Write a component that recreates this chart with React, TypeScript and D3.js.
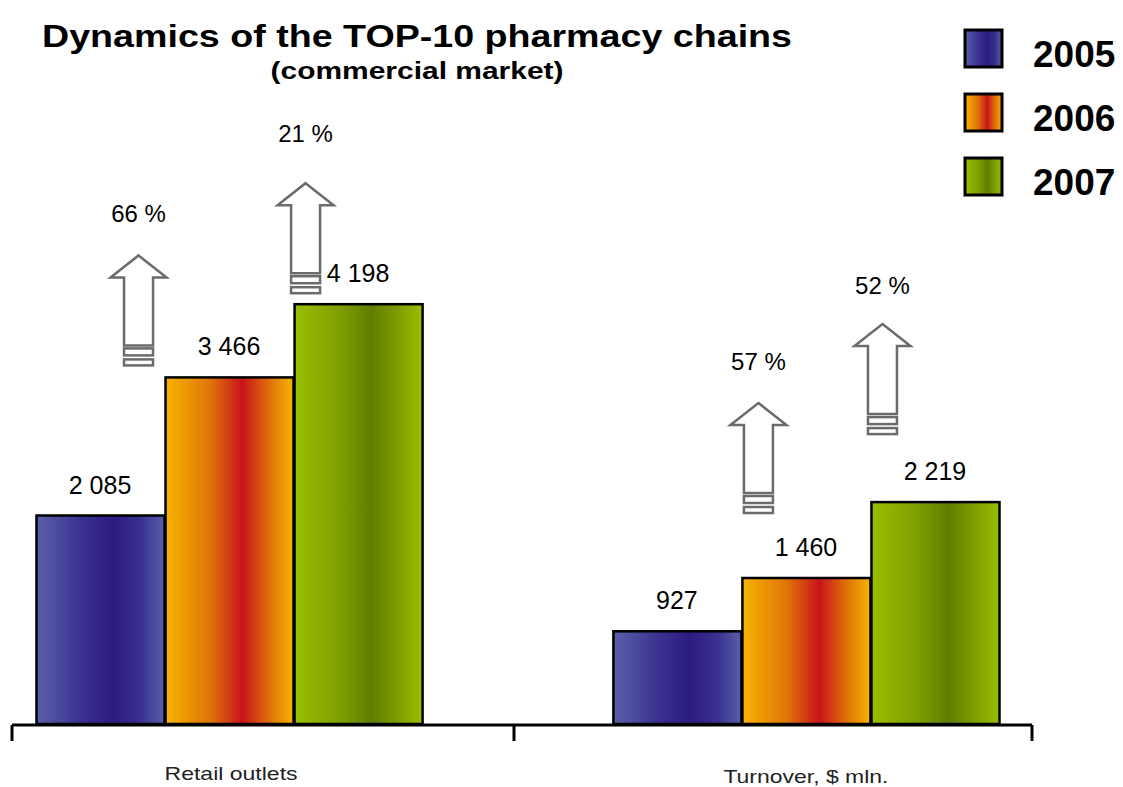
import React from "react";
import * as d3 from "d3";

const categories = ["Retail outlets", "Turnover, $ mln."];
const years = ["2005", "2006", "2007"];
const values2005 = [2085, 927];
const values2006 = [3466, 1460];
const values2007 = [4198, 2219];
const seriesValues = [values2005, values2006, values2007];

const changeGroups = ["Retail outlets", "Retail outlets", "Turnover, $ mln.", "Turnover, $ mln."];
const changeTo = ["2006", "2007", "2006", "2007"];
const changeLabels = ["66 %", "21 %", "57 %", "52 %"];
// layout offsets for arrows (dx from target bar left edge, dy above target bar top, label gap above tip)
const arrowDx = [-26, 12, 17, 12];
const arrowDy = [122, 121, 175, 178];
const labelGap = [33, 41, 33, 30];

const gradients = [
  { id: "g2005", edge: "#5a60a9", mid: "#3a3290", center: "#2c1b82" },
  { id: "g2006", edge: "#f6b400", mid: "#e07408", center: "#c8141c" },
  { id: "g2007", edge: "#9abf00", mid: "#7fa000", center: "#5f7e00" },
];

const W = 1123;
const H = 787;
const FONT = "'Liberation Sans', Arial, Helvetica, sans-serif";

export default function App() {
  const x0 = d3.scaleBand<string>().domain(categories).range([35.5, 999.5]).paddingInner(0.329).paddingOuter(0);
  const x1 = d3.scaleBand<string>().domain(years).range([0, x0.bandwidth()]).padding(0);
  const y = d3.scaleLinear().domain([0, 4000]).range([724, 324]);
  const fmt = d3.formatLocale({ decimal: ".", thousands: " ", grouping: [3], currency: ["", ""] }).format(",d");

  const axisY = 725;
  const axisLeft = 12;
  const axisRight = 1032;
  const tickXs = [axisLeft, 514, axisRight];

  const arrowPath = (cx: number, ty: number) => {
    const hw = 28, hh = 22, sw = 14.5, sb = 90;
    return d3.line()([
      [cx, ty],
      [cx + hw, ty + hh],
      [cx + sw, ty + hh],
      [cx + sw, ty + sb],
      [cx - sw, ty + sb],
      [cx - sw, ty + hh],
      [cx - hw, ty + hh],
    ]) + "Z";
  };

  return (
    <svg width={W} height={H} style={{ position: "absolute", left: 0, top: 0, background: "#fff" }} fontFamily={FONT}>
      <defs>
        {gradients.map((g) => (
          <linearGradient key={g.id} id={g.id} x1="0" y1="0" x2="1" y2="0">
            <stop offset="0" stopColor={g.edge} />
            <stop offset="0.35" stopColor={g.mid} />
            <stop offset="0.6" stopColor={g.center} />
            <stop offset="0.82" stopColor={g.mid} />
            <stop offset="1" stopColor={g.edge} />
          </linearGradient>
        ))}
      </defs>

      {/* Title */}
      <text x={417} y={47} textAnchor="middle" fontSize={32} fontWeight="bold" textLength={750} lengthAdjust="spacingAndGlyphs">
        Dynamics of the TOP-10 pharmacy chains
      </text>
      <text x={417} y={79} textAnchor="middle" fontSize={24} fontWeight="bold" textLength={293} lengthAdjust="spacingAndGlyphs">
        (commercial market)
      </text>

      {/* Bars */}
      {categories.map((cat, ci) => (
        <g key={cat} transform={`translate(${x0(cat)},0)`}>
          {years.map((yr, yi) => {
            const v = seriesValues[yi][ci];
            const bx = x1(yr)!;
            return (
              <g key={yr}>
                <rect
                  x={bx + 1}
                  y={y(v)}
                  width={x1.bandwidth() - 1}
                  height={y(0) - y(v)}
                  fill={`url(#${gradients[yi].id})`}
                  stroke="#000"
                  strokeWidth={2.5}
                />
                <text x={bx + x1.bandwidth() / 2} y={y(v) - 22} textAnchor="middle" fontSize={25}>
                  {fmt(v)}
                </text>
              </g>
            );
          })}
        </g>
      ))}

      {/* Axis */}
      <line x1={axisLeft} x2={axisRight} y1={axisY} y2={axisY} stroke="#000" strokeWidth={3} />
      {tickXs.map((tx, i) => (
        <line key={i} x1={tx} x2={tx} y1={axisY} y2={741} stroke="#000" strokeWidth={3} />
      ))}
      {categories.map((cat, ci) => (
        <text
          key={cat}
          x={x0(cat)! + x0.bandwidth() / 2 + (ci === 0 ? 2 : 0)}
          y={ci === 0 ? 780 : 783}
          textAnchor="middle"
          fontSize={19}
          fill="#222"
          textLength={ci === 0 ? 133 : 165}
          lengthAdjust="spacingAndGlyphs"
        >
          {cat}
        </text>
      ))}

      {/* Change arrows */}
      {changeLabels.map((lab, i) => {
        const cat = changeGroups[i];
        const ci = categories.indexOf(cat);
        const yi = years.indexOf(changeTo[i]);
        const cx = x0(cat)! + x1(changeTo[i])! + arrowDx[i];
        const ty = y(seriesValues[yi][ci]) - arrowDy[i];
        return (
          <g key={i}>
            <path d={arrowPath(cx, ty)} fill="#fff" stroke="#6b6b6b" strokeWidth={2.5} strokeLinejoin="miter" />
            <rect x={cx - 14.5} y={ty + 93} width={29} height={7} fill="#fff" stroke="#6b6b6b" strokeWidth={2.5} />
            <rect x={cx - 14.5} y={ty + 104} width={29} height={6} fill="#fff" stroke="#6b6b6b" strokeWidth={2.5} />
            <text x={cx} y={ty - labelGap[i]} textAnchor="middle" fontSize={24}>
              {lab}
            </text>
          </g>
        );
      })}

      {/* Legend */}
      {years.map((yr, i) => (
        <g key={yr} transform={`translate(965,${30 + i * 64})`}>
          <rect x={0} y={0} width={37} height={37} fill={`url(#${gradients[i].id})`} stroke="#000" strokeWidth={3} />
          <text x={68} y={37} fontSize={37} fontWeight="bold">
            {yr}
          </text>
        </g>
      ))}
    </svg>
  );
}
